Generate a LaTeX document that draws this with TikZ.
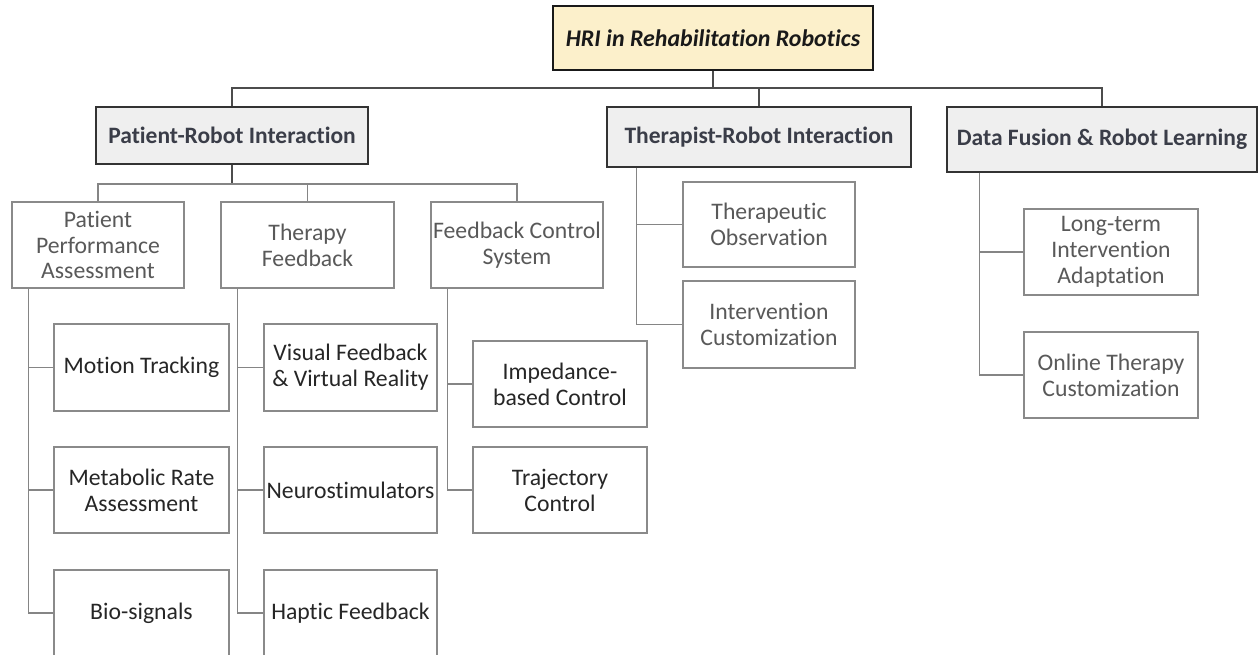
\documentclass[tikz,border=0pt]{standalone}
\usepackage{fontspec}
\setmainfont[Ligatures=NoCommon]{Carlito}
\begin{document}
\begin{tikzpicture}[x=1bp,y=-1bp,
  every node/.style={inner sep=0pt, align=center},
  base/.style={font=\fontsize{23.8}{26}\selectfont},
  rootbox/.style={draw=black!90, line width=1.5bp, fill=rootfill,
     text=black!90, font=\fontsize{24}{26}\selectfont\bfseries\itshape},
  topbox/.style={draw=black!80, line width=1.5bp, fill=topfill,
     text=toptext, font=\fontsize{23.6}{26}\selectfont\bfseries},
  midbox/.style={base, draw=boxline, line width=1.2bp, fill=white, text=black!65},
  leaf/.style={base, draw=boxline, line width=1.2bp, fill=white, text=black!85},
  softleaf/.style={base, draw=boxline, line width=1.2bp, fill=white, text=black!65},
  link/.style={draw=linkcol, line width=1.2bp},
  trunk/.style={draw=black!70, line width=1.3bp},
]
\definecolor{rootfill}{HTML}{FCF0CB}
\definecolor{topfill}{HTML}{EFEFEF}
\definecolor{toptext}{HTML}{3A3D48}
\definecolor{boxline}{HTML}{8A8A8A}
\definecolor{linkcol}{HTML}{858585}

\useasboundingbox (0,0) rectangle (1259,655);

% root and first level
\node[rootbox, minimum width=320bp, minimum height=64bp] (root) at (713,38) {HRI in Rehabilitation Robotics};
\node[topbox, minimum width=272bp, minimum height=57bp] (pri) at (232,135.5) {Patient-Robot Interaction};
\node[topbox, minimum width=304bp, minimum height=60bp] (tri) at (759,137) {Therapist-Robot Interaction};
\node[topbox, minimum width=310bp, minimum height=65bp] (df) at (1102,139.5) {Data Fusion \& Robot Learning};

% second level under patient-robot interaction
\node[midbox, minimum width=172bp, minimum height=86bp] (ppa) at (98,245) {Patient\\Performance\\Assessment};
\node[midbox, minimum width=173bp, minimum height=86bp] (tf) at (307.5,245) {Therapy\\Feedback};
\node[midbox, minimum width=172bp, minimum height=86bp] (fcs) at (517,245) {Feedback Control\\System};

% leaves: patient performance assessment
\node[leaf, minimum width=175bp, minimum height=87bp] (mt) at (141.5,367.5) {Motion Tracking};
\node[leaf, minimum width=175bp, minimum height=86bp] (mr) at (141.5,490) {Metabolic Rate\\Assessment};
\node[leaf, minimum width=175bp, minimum height=86bp] (bio) at (141.5,613) {Bio-signals};

% leaves: therapy feedback
\node[leaf, minimum width=173bp, minimum height=87bp] (vf) at (350.5,367.5) {Visual Feedback\\\& Virtual Reality};
\node[leaf, minimum width=173bp, minimum height=86bp] (ns) at (350.5,490) {Neurostimulators};
\node[leaf, minimum width=173bp, minimum height=86bp] (hf) at (350.5,613) {Haptic Feedback};

% leaves: feedback control system
\node[leaf, minimum width=174bp, minimum height=86bp] (imp) at (560,384) {Impedance-\\based Control};
\node[leaf, minimum width=174bp, minimum height=86bp] (traj) at (560,490) {Trajectory\\Control};

% leaves: therapist-robot interaction
\node[softleaf, minimum width=172bp, minimum height=85bp] (obs) at (769,224.5) {Therapeutic\\Observation};
\node[softleaf, minimum width=172bp, minimum height=87bp] (cust) at (769,324.5) {Intervention\\Customization};

% leaves: data fusion and robot learning
\node[softleaf, minimum width=174bp, minimum height=86bp] (lt) at (1111,252) {Long-term\\Intervention\\Adaptation};
\node[softleaf, minimum width=174bp, minimum height=86bp] (ot) at (1111,375) {Online Therapy\\Customization};

% top-level tree
\coordinate (bus) at (713,88);
\draw[trunk] (root.south) -- (bus);
\draw[trunk] (pri.north) |- (bus) -| (df.north);
\draw[trunk] (tri.north) -- (tri.north |- bus);

% patient-robot interaction branches
\coordinate (sub) at (232,184);
\draw[trunk] (pri.south) -- (sub);
\draw[link] (ppa.north) |- (sub) -| (fcs.north);
\draw[link] (tf.north) -- (tf.north |- sub);

% vertical rails with side branches
\coordinate (r1) at ([xshift=17bp]ppa.south west);
\draw[link] (r1) |- (bio.west);
\draw[link] (mt.west) -- (mt.west -| r1);
\draw[link] (mr.west) -- (mr.west -| r1);

\coordinate (r2) at ([xshift=17bp]tf.south west);
\draw[link] (r2) |- (hf.west);
\draw[link] (vf.west) -- (vf.west -| r2);
\draw[link] (ns.west) -- (ns.west -| r2);

\coordinate (r3) at ([xshift=17bp]fcs.south west);
\draw[link] (r3) |- (traj.west);
\draw[link] (imp.west) -- (imp.west -| r3);

\coordinate (r4) at ([xshift=30bp]tri.south west);
\draw[link] (r4) |- (cust.west);
\draw[link] (obs.west) -- (obs.west -| r4);

\coordinate (r5) at ([xshift=33bp]df.south west);
\draw[link] (r5) |- (ot.west);
\draw[link] (lt.west) -- (lt.west -| r5);
\end{tikzpicture}
\end{document}
